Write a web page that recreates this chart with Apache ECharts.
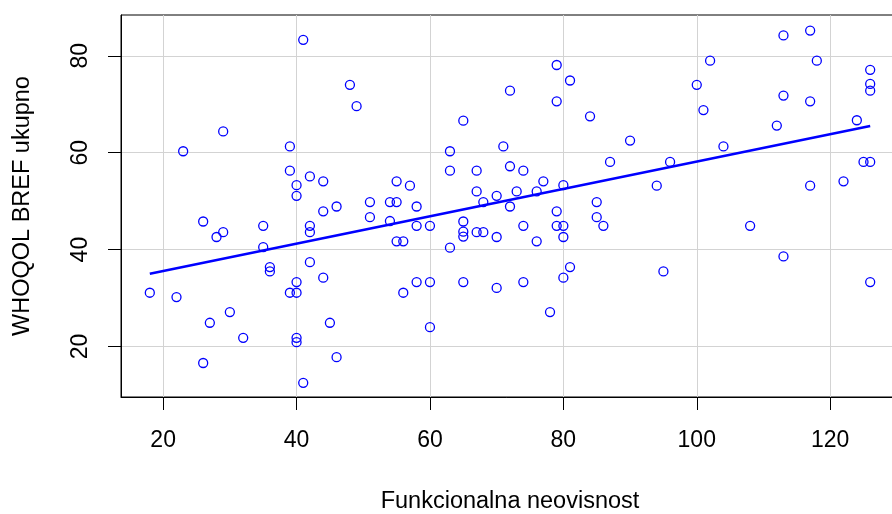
<!DOCTYPE html>
<html>
<head>
<meta charset="utf-8">
<script src="https://cdn.jsdelivr.net/npm/echarts@6/dist/echarts.min.js"></script>
<style>
html,body{margin:0;padding:0;background:#fff;overflow:hidden;}
#chart{width:892px;height:514px;}
</style>
</head>
<body>
<div id="chart"></div>
<script>
// Data
var funkcionalnaNeovisnost = [
  41,48,49,29,23,39,39,42,44,40,40,
  79,81,72,79,65,84,71,90,63,87,63,67,72,74,55,57,77,80,67,70,73,76,
  51,54,55,58,68,72,85,79,51,54,58,60,65,65,65,67,68,70,74,76,79,80,80,85,86,55,56,63,81,80,58,60,65,74,56,70,78,60,
  44,46,26,28,29,35,42,42,35,36,36,42,44,40,39,40,18,22,30,27,32,45,40,40,26,46,41,
  117,113,102,118,126,126,126,100,113,117,101,112,124,104,96,94,117,122,125,126,
  108,113,95,126
];
var whoqolBref = [
  83.3,74.0,69.6,64.4,60.3,61.3,56.3,55.1,54.1,53.3,51.1,
  78.1,74.9,72.8,70.6,66.6,67.5,61.3,62.5,60.3,58.1,56.3,56.3,57.2,56.3,54.1,53.2,54.1,53.3,52.0,51.1,52.0,52.0,
  49.8,49.8,49.8,48.9,49.8,48.9,49.8,47.9,46.7,45.9,44.9,44.9,45.8,43.7,42.7,43.6,43.6,42.6,44.9,41.7,44.9,44.9,42.6,46.7,44.9,41.7,41.7,40.4,36.4,34.2,33.3,33.3,33.3,33.3,31.1,32.1,27.1,24.0,
  47.9,48.9,45.8,42.6,43.6,44.9,44.9,43.6,40.5,36.4,35.5,37.4,34.2,33.3,31.1,31.1,31.1,30.2,27.1,24.9,21.8,24.9,21.8,20.9,16.6,17.8,12.5,
  85.2,84.2,79.0,79.0,77.1,74.2,72.8,74.0,71.8,70.6,68.8,65.6,66.7,61.3,58.1,53.2,53.2,54.1,58.1,58.1,
  44.9,38.6,35.5,33.3
];
// Fitted line end points
var fitX = [18, 126];
var fitY = [35.0, 65.5];
// Tick labels
var xTicks = [20, 40, 60, 80, 100, 120];
var yTicks = [20, 40, 60, 80];
var xTitle = 'Funkcionalna neovisnost';
var yTitle = 'WHOQOL BREF ukupno';

var points = funkcionalnaNeovisnost.map(function (x, i) { return [x, whoqolBref[i]]; });
var fitLine = fitX.map(function (x, i) { return [x, fitY[i]]; });

var FONT = '"Liberation Sans", Arial, Helvetica, sans-serif';
var chart = echarts.init(document.getElementById('chart'), null, {renderer: 'canvas'});
chart.setOption({
  animation: false,
  backgroundColor: '#ffffff',
  grid: {
    left: 121, top: 15, width: 778, height: 382,
    outerBoundsMode: 'none',
    show: true, borderColor: '#000', borderWidth: 1, backgroundColor: 'transparent',
    containLabel: false
  },
  xAxis: {
    type: 'value', min: 13.68, max: 130.32,
    name: xTitle, nameLocation: 'middle', nameGap: 93,
    nameTextStyle: {color: '#000', fontFamily: FONT, fontSize: 23.5},
    axisLine: {show: true, onZero: false, lineStyle: {color: '#000', width: 1}},
    axisTick: {show: true, length: 13, customValues: xTicks, lineStyle: {color: '#000', width: 1}},
    axisLabel: {show: true, customValues: xTicks, margin: 32, color: '#000', fontFamily: FONT, fontSize: 23},
    splitLine: {show: true, lineStyle: {color: '#d3d3d3', width: 1}}
  },
  yAxis: {
    type: 'value', min: 9.58, max: 88.42,
    name: yTitle, nameLocation: 'middle', nameGap: 86, nameRotate: 90,
    nameTextStyle: {color: '#000', fontFamily: FONT, fontSize: 23.5},
    axisLine: {show: true, onZero: false, lineStyle: {color: '#000', width: 1}},
    axisTick: {show: true, length: 13, customValues: yTicks, lineStyle: {color: '#000', width: 1}},
    axisLabel: {show: true, customValues: yTicks, rotate: 90, margin: 29, color: '#000', fontFamily: FONT, fontSize: 23},
    splitLine: {show: true, lineStyle: {color: '#d3d3d3', width: 1}}
  },
  series: [
    {
      type: 'scatter', data: points, symbol: 'circle', symbolSize: 9, z: 3,
      itemStyle: {color: 'rgba(255,255,255,0)', borderColor: '#0000ff', borderWidth: 1.3, opacity: 1},
      emphasis: {disabled: true}, silent: true
    },
    {
      type: 'line', data: fitLine, symbol: 'none', z: 4,
      lineStyle: {color: '#0000ff', width: 2.6},
      emphasis: {disabled: true}, silent: true
    }
  ]
});
</script>
</body>
</html>
